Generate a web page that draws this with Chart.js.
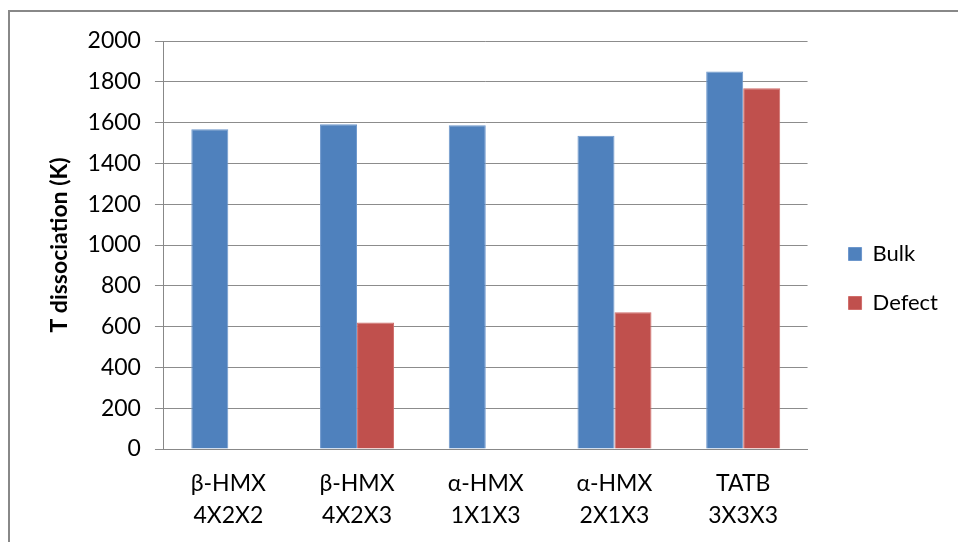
<!DOCTYPE html>
<html>
<head>
<meta charset="utf-8">
<script src="https://cdn.jsdelivr.net/npm/chart.js@4"></script>
<style>
  html, body { margin: 0; padding: 0; background: #fff; }
  #wrap { width: 958px; height: 542px; position: relative; }
</style>
</head>
<body>
<div id="wrap"><canvas id="chart"></canvas></div>
<script>
// Data
const categories = [
    ['\u03b2-HMX', '4X2X2'],
    ['\u03b2-HMX', '4X2X3'],
    ['\u03b1-HMX', '1X1X3'],
    ['\u03b1-HMX', '2X1X3'],
    ['TATB', '3X3X3']
];
const bulkValues = [1567, 1592, 1587, 1536, 1850];
const defectValues = [null, 620, null, 670, 1768];
const yTicks = [0, 200, 400, 600, 800, 1000, 1200, 1400, 1600, 1800, 2000];

const FONT = 'Lato, "Open Sans", sans-serif';

// outer frame of the chart object (only left and top edges are in view)
const framePlugin = {
    id: 'frame',
    afterLayout(chart) {
        // legend sits a bit above the middle of the page
        chart.legend.top -= 13;
        chart.legend.bottom -= 13;
    },
    afterDraw(chart) {
        const ctx = chart.ctx;
        ctx.save();
        ctx.strokeStyle = '#888888';
        ctx.lineWidth = 2;
        ctx.beginPath();
        ctx.moveTo(9, 542);
        ctx.lineTo(9, 11);
        ctx.lineTo(958, 11);
        ctx.stroke();
        ctx.restore();
    }
};

const ctx = document.getElementById('chart').getContext('2d');
new Chart(ctx, {
    type: 'bar',
    data: {
        labels: categories,
        datasets: [
            { label: 'Bulk', data: bulkValues, backgroundColor: '#4F81BD', borderColor: '#6d97cc', borderWidth: 1 },
            { label: 'Defect', data: defectValues, backgroundColor: '#C0504D', borderColor: '#d06d6a', borderWidth: 1 }
        ]
    },
    plugins: [framePlugin],
    options: {
        responsive: true,
        maintainAspectRatio: false,
        animation: false,
        categoryPercentage: 0.575,
        barPercentage: 1.0,
        layout: { padding: { left: 46, right: 10, top: 41, bottom: 0 } },
        plugins: {
            legend: {
                position: 'right',
                align: 'center',
                labels: {
                    boxWidth: 13,
                    boxHeight: 13,
                    padding: 27,
                    color: '#000',
                    font: { family: FONT, size: 22 }
                }
            },
            tooltip: { enabled: false }
        },
        scales: {
            x: {
                grid: { display: false },
                border: { color: '#888888', width: 1 },
                afterFit: (axis) => { axis.height = 93; },
                ticks: {
                    color: '#000',
                    padding: 10,
                    maxRotation: 0,
                    font: { family: FONT, size: 23, lineHeight: 1.4 }
                }
            },
            y: {
                min: 0,
                max: 2000,
                afterBuildTicks: (axis) => { axis.ticks = yTicks.map(v => ({ value: v })); },
                grid: { color: '#8c8c8c', lineWidth: 1, tickLength: 9 },
                border: { color: '#888888', width: 1 },
                ticks: {
                    color: '#000',
                    padding: 14,
                    callback: (v) => String(v),
                    font: { family: FONT, size: 23 }
                },
                title: {
                    display: true,
                    text: 'T dissociation (K)',
                    color: '#000',
                    padding: { top: 0, bottom: 0 },
                    font: { family: FONT, size: 23, weight: 'bold' }
                }
            },
            // empty strip between plot and legend
            gap: {
                position: 'right',
                grid: { display: false },
                border: { display: false },
                ticks: { display: false },
                afterFit: (axis) => { axis.width = 14; }
            }
        }
    }
});
</script>
</body>
</html>
